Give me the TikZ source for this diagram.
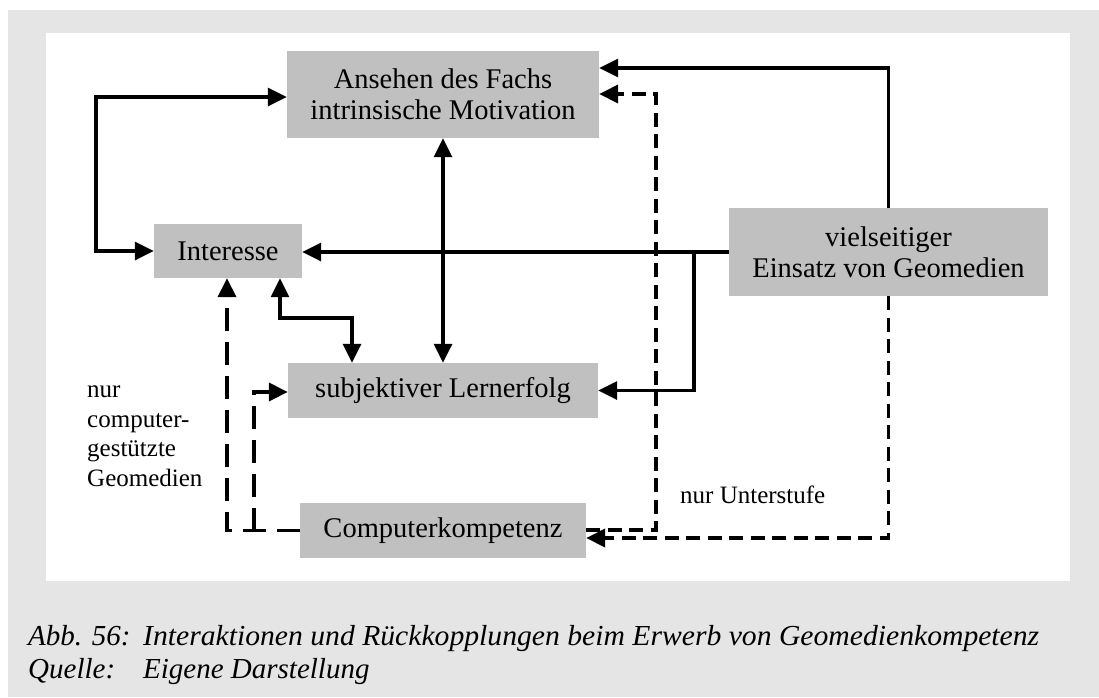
\documentclass[tikz,border=0pt]{standalone}
\usepackage{fontspec}
\setmainfont{Liberation Serif}
\usetikzlibrary{arrows.meta}
\definecolor{bggray}{HTML}{E5E5E5}
\definecolor{boxgray}{HTML}{C0C0C0}
\begin{document}
\begin{tikzpicture}[x=1pt,y=-1pt,
  >={Triangle[length=19pt,width=18pt]},
  box/.style={fill=boxgray, inner sep=0pt, font=\fontsize{28.5}{31}\selectfont, align=center},
  sl/.style={line width=3.3pt},
  dr/.style={line width=3.8pt, dash pattern=on 14pt off 7.5pt},
  ld/.style={line width=3.8pt, dash pattern=on 23pt off 11pt},
  lbl/.style={font=\fontsize{25}{29.5}\selectfont, inner sep=0pt},
  captext/.style={font=\fontsize{29}{33}\selectfont\itshape, inner sep=0pt, anchor=base west}]
\useasboundingbox (0,0) rectangle (1099,697);
\fill[white] (0,0) rectangle (1099,697);
\fill[bggray] (8,10) rectangle (1099,697);
\fill[white] (46,33) rectangle (1070,581);

\node[box, minimum width=312pt, minimum height=87pt] (ans) at (443,94.5) {Ansehen des Fachs\\intrinsische Motivation};
\node[box, minimum width=148pt, minimum height=54pt] (int) at (228,251) {Interesse};
\node[box, minimum width=319pt, minimum height=88pt] (viel) at (888.5,252) {vielseitiger\\Einsatz von Geomedien};
\node[box, minimum width=310pt, minimum height=55pt] (lern) at (443,390.5) {subjektiver Lernerfolg};
\node[box, minimum width=286pt, minimum height=55pt] (comp) at (443,530.5) {Computerkompetenz};

\coordinate (l1) at (96,97);
\coordinate (b1) at (694,251);
\coordinate (t1) at (888,68);
\coordinate (d1) at (656,94);
\coordinate (d2) at (656,530);
\coordinate (d3) at (889,538);
\coordinate (s1) at (280,318);
\coordinate (s2) at (352,318);
\coordinate (c1) at (227,531);
\coordinate (c2) at (254,530.5);
\coordinate (c3) at (254,392);

\draw[sl,<->] (int.west) -| (l1) -- (ans.west |- l1);
\draw[sl,->] (viel.west) -- (viel.west -| int.east);
\draw[sl,->] (b1) |- (lern.east);
\draw[sl,->] (viel.north) |- (ans.east |- t1);
\draw[dr,->] (comp.east |- d2) -| (d1) -- (ans.east |- d1);
\draw[dr,->] (viel.south) |- (comp.east |- d3);
\draw[sl,<->] (ans.south) -- (lern.north);
\draw[sl,<->] (int.south -| s1) -- (s1) -- (s2) -- (lern.north -| s2);
\draw[ld,->] (comp.west) -| (int.south -| c1);
\draw[ld,->] (c2) -- (c3) -- (lern.west |- c3);

\node[lbl, anchor=base west, align=left] (lab1) at (87,486) {nur\\computer-\\gestützte\\Geomedien};
\node[lbl, anchor=base west] (lab2) at (680,503) {nur Unterstufe};

\node[captext] (cap1) at (28,645) {Abb. 56:};
\node[captext] (cap2) at (143,645) {\resizebox{896pt}{\height}{Interaktionen und Rückkopplungen beim Erwerb von Geomedienkompetenz}};
\node[captext] (cap3) at (28,678) {Quelle:};
\node[captext] (cap4) at (143,678) {Eigene Darstellung};
\end{tikzpicture}
\end{document}
